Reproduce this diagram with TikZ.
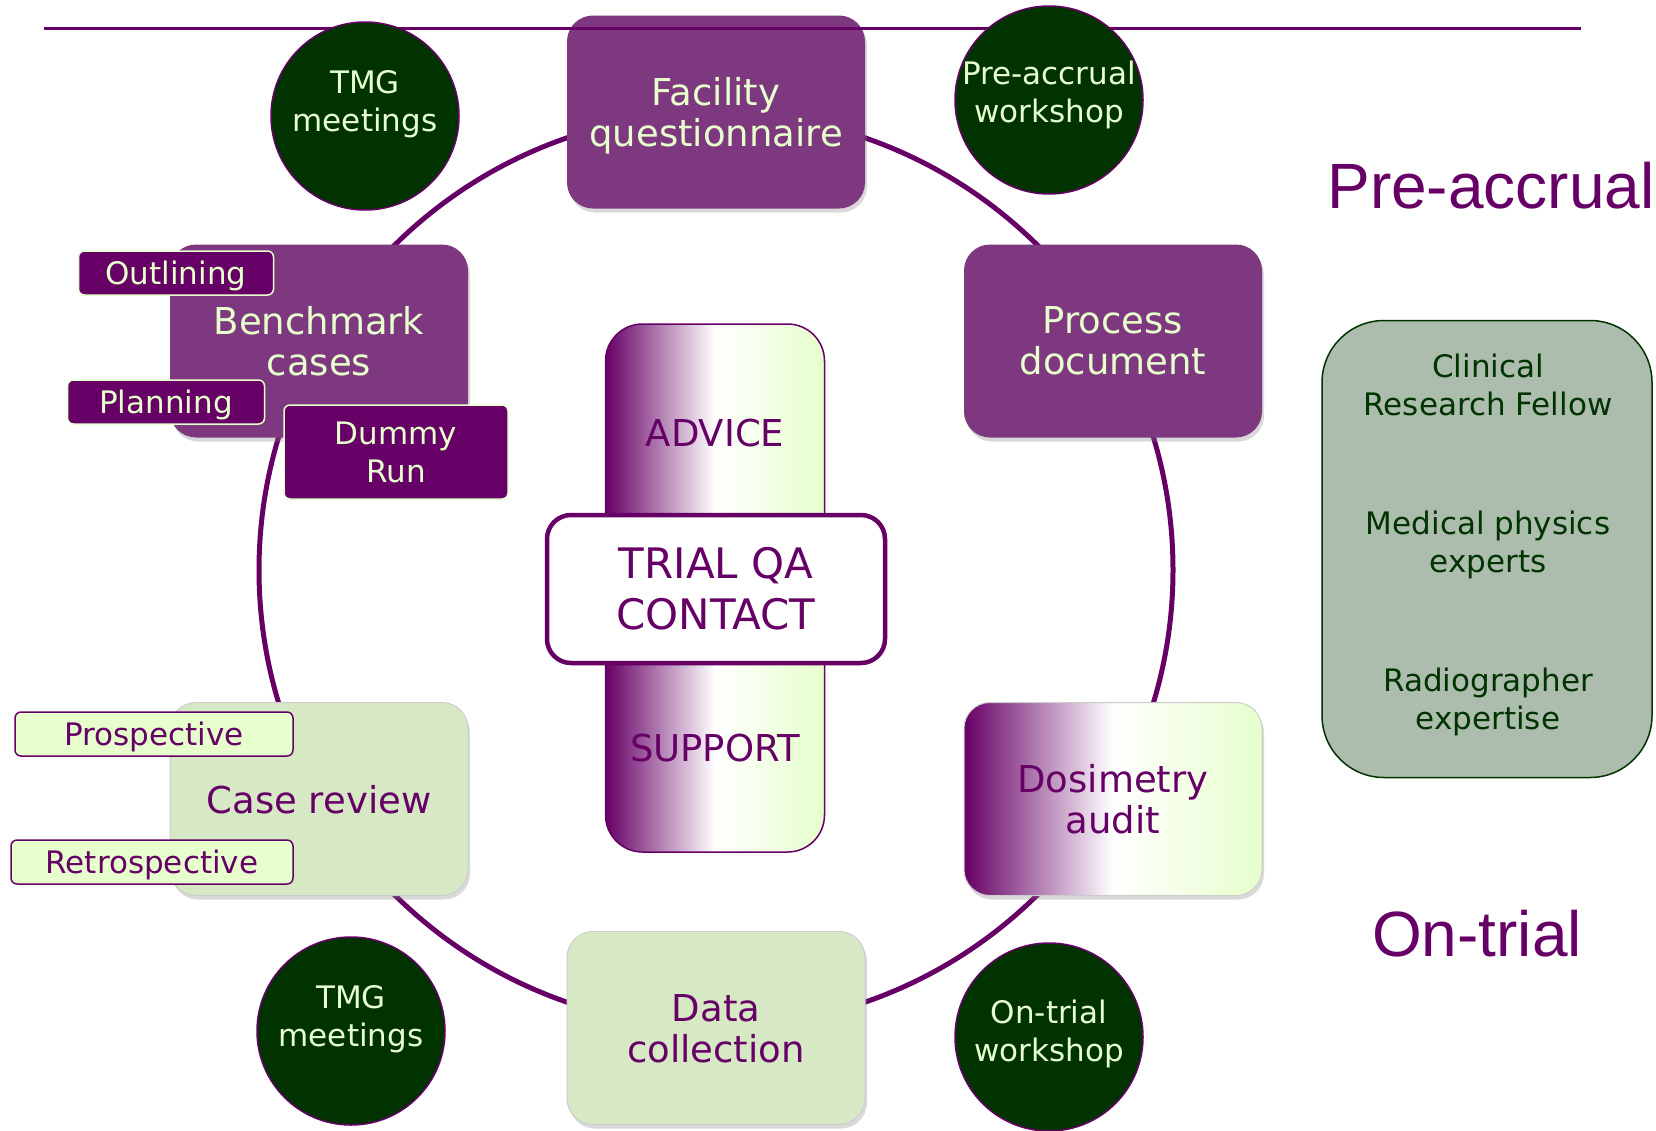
\documentclass[tikz,border=0pt]{standalone}
\usepackage{fontspec}
\setmainfont{DejaVu Sans}
\newfontfamily\arialfont{Liberation Sans}
\usepackage{tikz}
\usetikzlibrary{shadows}
\definecolor{qapurple}{HTML}{660066}
\definecolor{boxpurple}{HTML}{7E3880}
\definecolor{palegreen}{HTML}{E6FFCC}
\definecolor{sagegreen}{HTML}{D7E9C4}
\definecolor{forest}{HTML}{003300}
\definecolor{panelgrey}{HTML}{ACBDAD}

\tikzset{
  stagebox/.style={rounded corners=26pt, minimum width=298pt, minimum height=193pt,
    align=center, text depth=0pt, font=\fontsize{37}{41}\selectfont,
    drop shadow={shadow xshift=2pt, shadow yshift=-4pt, opacity=0.3}},
  purplestage/.style={stagebox, fill=boxpurple, text=palegreen},
  greenstage/.style={stagebox, fill=sagegreen, text=qapurple, draw=black!20, line width=1pt},
  fadestage/.style={stagebox, left color=qapurple, right color=palegreen, middle color=white,
    text=qapurple, draw=black!20, line width=1pt},
  darktag/.style={rounded corners=6pt, fill=qapurple, draw=palegreen, line width=1.5pt,
    text=palegreen, align=center, inner sep=0pt, text depth=0pt, font=\fontsize{31}{38}\selectfont},
  lighttag/.style={rounded corners=6pt, fill=palegreen, draw=qapurple, line width=1.5pt,
    text=qapurple, inner sep=0pt, text depth=0pt, font=\fontsize{31}{38}\selectfont},
  meeting/.style={circle, fill=forest, draw=qapurple, line width=1.5pt, minimum size=188pt, inner sep=0pt},
  meettext/.style={text=palegreen, align=center, text depth=0pt, font=\fontsize{31}{38}\selectfont},
  paneltext/.style={text=forest, align=center, text depth=0pt, font=\fontsize{31}{38}\selectfont},
  phase/.style={text=qapurple, anchor=base, font=\arialfont\fontsize{64}{72}\selectfont}
}

\begin{document}
\begin{tikzpicture}[x=1pt, y=-1pt]
      \useasboundingbox (0,0) rectangle (1656,1130);

      % Draw the ring behind the stages
      \coordinate (ring) at (716,570);
      \draw[qapurple, line width=5pt] (ring) circle (457pt);

      % The six stages
      \node[purplestage] (facility) at (716,112) {Facility\\questionnaire};
      \node[purplestage] (process) at (1113,341) {Process\\document};
      \node[purplestage] (bench) at (319,341) {Benchmark\\cases};
      \node[greenstage] (caserev) at (319,799) {Case review};
      \node[fadestage] (dosim) at (1113,799) {Dosimetry\\audit};
      \node[greenstage] (datacol) at (716,1028) {Data\\collection};

      % Centre column and contact box
      \node[rounded corners=37pt, left color=qapurple, right color=palegreen, middle color=white,
        draw=qapurple, line width=1.5pt, minimum width=219pt, minimum height=528pt] (column) at (715,588) {};
      \node[text=qapurple, font=\fontsize{37}{41}\selectfont] (advice) at (715,433) {ADVICE};
      \node[text=qapurple, font=\fontsize{37}{41}\selectfont] (support) at (715,748) {SUPPORT};
      \node[rounded corners=24pt, fill=white, draw=qapurple, line width=4.5pt, minimum width=338pt,
        minimum height=148pt, align=center, text=qapurple, font=\fontsize{42}{51}\selectfont] (contact) at (716,589) {TRIAL QA\\CONTACT};

      % Tags on the benchmark cases
      \node[darktag, minimum width=195pt, minimum height=44pt] (outline) at (176,273) {Outlining};
      \node[darktag, minimum width=197pt, minimum height=44pt] (planning) at (166,402) {Planning};
      \node[darktag, minimum width=224pt, minimum height=94pt] (dummy) at (396,452) {Dummy\\Run};

      % Tags on the case review
      \node[lighttag, minimum width=278pt, minimum height=44pt] (prosp) at (154,734) {Prospective};
      \node[lighttag, minimum width=282pt, minimum height=44pt] (retro) at (152,862) {Retrospective};

      % Top rule
      \coordinate (ruleL) at (44,28);
      \coordinate (ruleR) at (1581,28);
      \draw[qapurple, line width=3pt] (ruleL) -- (ruleR);

      % Meetings and workshops
      \node[meeting] (tmgtop) at (365,116) {};
      \node[meettext] at ([yshift=15pt]tmgtop.center) {TMG\\meetings};
      \node[meeting] (prews) at (1049,100) {};
      \node[meettext] at ([yshift=8pt]prews.center) {Pre-accrual\\workshop};
      \node[meeting] (tmgbot) at (351,1031) {};
      \node[meettext] at ([yshift=15pt]tmgbot.center) {TMG\\meetings};
      \node[meeting] (trialws) at (1049,1037) {};
      \node[meettext] at ([yshift=6pt]trialws.center) {On-trial\\workshop};

      % Expertise panel
      \node[rounded corners=62pt, fill=panelgrey, draw=forest, line width=1.5pt,
        minimum width=330pt, minimum height=457pt] (panel) at (1487,549) {};
      \node[paneltext] (fellow) at (1488,385) {Clinical\\Research Fellow};
      \node[paneltext] (physics) at (1488,542) {Medical physics\\experts};
      \node[paneltext] (radio) at (1488,699) {Radiographer\\expertise};

      % Phase labels
      \node[phase] (preaccrual) at (1491,208) {Pre-accrual};
      \node[phase] (ontrial) at (1477,956) {On-trial};
    \end{tikzpicture}
\end{document}
